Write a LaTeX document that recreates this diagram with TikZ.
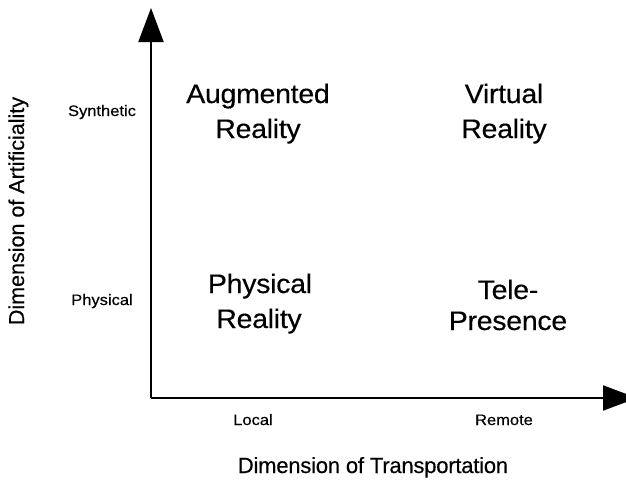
\documentclass[tikz,border=0pt]{standalone}
\usepackage{fontspec}
\setmainfont{Liberation Sans}[FakeBold=0.3]
\usetikzlibrary{arrows.meta}
\begin{document}
\begin{tikzpicture}[x=1pt,y=-1pt,
  axis/.style={line width=2pt,-{Triangle[length=34pt,width=25pt]}},
  big/.style={anchor=base,inner sep=0pt,font=\fontsize{28.5}{32}\selectfont\addfontfeature{LetterSpace=-1},yscale=0.94},
  small/.style={anchor=base,inner sep=0pt,font=\fontsize{16.5}{19}\selectfont,yscale=0.92},
  title/.style={anchor=base,inner sep=0pt,font=\fontsize{22}{26}\selectfont\addfontfeature{LetterSpace=-1}}]
\useasboundingbox (0,0) rectangle (626,479);
\clip (0,0) rectangle (626,479);
\fill[white] (0,0) rectangle (626,479);
\coordinate (o) at (151,398);
\coordinate (ytip) at (151,8);
\coordinate (xtip) at (637,398);
\draw[axis] (o) -- (ytip);
\draw[axis] (o) -- (xtip);
% quadrant labels
\node[big] (ar1) at (258,103) {Augmented};
\node[big] (ar2) at (258,138) {Reality};
\node[big] (vr1) at (504,103) {Virtual};
\node[big] (vr2) at (504,138) {Reality};
\node[big] (pr1) at (260,293) {Physical};
\node[big] (pr2) at (259,328) {Reality};
\node[big] (tp1) at (508,299) {Tele-};
\node[big] (tp2) at (508,330) {Presence};
% tick labels
\node[small] (syn) at (102,116) {Synthetic};
\node[small] (phy) at (102,305) {Physical};
\node[small] (loc) at (253,425) {Local};
\node[small] (rem) at (504,425) {Remote};
% axis titles
\node[title] (xt) at (373,473) {Dimension of Transportation};
\node[title,rotate=90,font=\fontsize{21.5}{26}\selectfont] (yt) at (24,211) {Dimension of Artificiality};
\end{tikzpicture}
\end{document}
